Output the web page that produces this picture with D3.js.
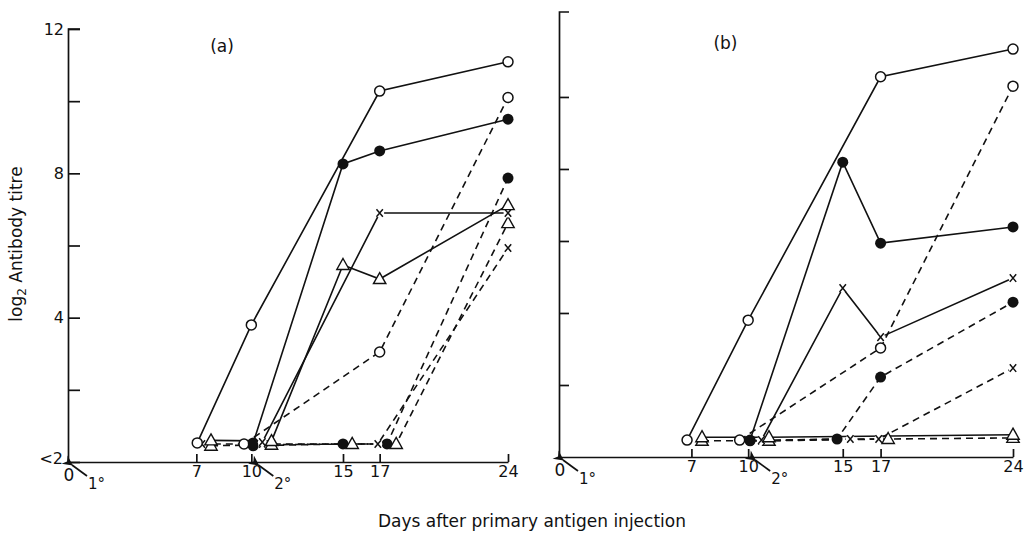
<!DOCTYPE html>
<html>
<head>
<meta charset="utf-8">
<script src="https://cdn.jsdelivr.net/npm/d3@7"></script>
<style>
body { margin: 0; background: #fff; }
text { font-family: "DejaVu Sans", "Noto Sans", sans-serif; fill: #111; }
</style>
</head>
<body>
<svg id="chart" width="1027" height="540"></svg>
<script>
const tickDays = [7, 10, 15, 17, 24];
const yTickValues = [0, 2, 4, 6, 8, 10, 12];
const yTickLabels = {0: '<2', 4: '4', 8: '8', 12: '12'};

// [day, log2 titre] -- points at the baseline are spread a little so they don't overlap
const aOpenSolid   = [[7.05, 0.53], [10, 3.8], [17, 10.28], [24, 11.09]];
const aFilledSolid = [[10.1, 0.53], [15, 8.26], [17, 8.62], [24, 9.5]];
const aCrossSolid  = [[10.6, 0.55], [17, 6.9], [24, 6.9]];
const aTriSolid    = [[7.8, 0.6], [11.1, 0.58], [15, 5.46], [17, 5.07], [24, 7.12]];
const aOpenDashed  = [[9.6, 0.5], [17, 3.05], [24, 10.1]];
const aFilledDashed= [[10.1, 0.45], [15, 0.5], [17.4, 0.5], [24, 7.87]];
const aTriDashed   = [[7.8, 0.45], [11.1, 0.48], [15.5, 0.5], [17.9, 0.5], [24, 6.62]];
const aCrossDashed = [[7.3, 0.5], [10.6, 0.5], [16.9, 0.5], [24, 5.93]];

const bOpenSolid   = [[6.77, 0.47], [10, 3.8], [17, 10.56], [24, 11.33]];
const bFilledSolid = [[10.1, 0.47], [15, 8.19], [17, 5.94], [24, 6.39]];
const bCrossSolid  = [[10.7, 0.47], [15, 4.69], [17, 3.33], [24, 4.97]];
const bTriSolid    = [[7.56, 0.55], [11.1, 0.55], [24, 0.62]];
const bOpenDashed  = [[9.55, 0.47], [17, 3.03], [24, 10.3]];
const bFilledDashed= [[10.1, 0.45], [14.7, 0.5], [17, 2.22], [24, 4.3]];
const bCrossDashed = [[10.7, 0.45], [15.4, 0.5], [16.9, 0.5], [24, 2.47]];
const bTriDashed   = [[7.56, 0.45], [11.1, 0.45], [17.4, 0.5], [24, 0.53]];

const seriesA = [
    {pts: aOpenDashed, mark: 'open', dash: true},
    {pts: aFilledDashed, mark: 'filled', dash: true},
    {pts: aTriDashed, mark: 'tri', dash: true},
    {pts: aCrossDashed, mark: 'cross', dash: true},
    {pts: aOpenSolid, mark: 'open', dash: false},
    {pts: aFilledSolid, mark: 'filled', dash: false},
    {pts: aCrossSolid, mark: 'cross', dash: false},
    {pts: aTriSolid, mark: 'tri', dash: false}
];
const seriesB = [
    {pts: bOpenDashed, mark: 'open', dash: true},
    {pts: bFilledDashed, mark: 'filled', dash: true},
    {pts: bCrossDashed, mark: 'cross', dash: true},
    {pts: bTriDashed, mark: 'tri', dash: true},
    {pts: bOpenSolid, mark: 'open', dash: false},
    {pts: bFilledSolid, mark: 'filled', dash: false},
    {pts: bCrossSolid, mark: 'cross', dash: false},
    {pts: bTriSolid, mark: 'tri', dash: false}
];

const svg = d3.select('#chart');
const ink = '#111';

svg.append('defs').append('marker')
    .attr('id', 'head')
    .attr('viewBox', '0 0 10 10')
    .attr('refX', 1).attr('refY', 5)
    .attr('markerWidth', 7).attr('markerHeight', 6)
    .attr('orient', 'auto-start-reverse')
    .append('path').attr('d', 'M0,5L10,0L7,5L10,10Z').attr('fill', ink);

function drawPanel(series, opt){
    let x = d3.scaleLinear().domain([0, 24]).range(opt.xRange);
    let y = d3.scaleLinear().domain([0, opt.yMax]).range(opt.yRange);
    let g = svg.append('g');

    let xAxis = d3.axisBottom(x).tickValues(tickDays).tickSize(-8).tickSizeOuter(0).tickPadding(4);
    let yAxis = d3.axisLeft(y).tickValues(opt.yTicks).tickSize(-opt.tickLen).tickSizeOuter(-opt.tickLen)
        .tickPadding(4).tickFormat(d => opt.labels ? (yTickLabels[d] || '') : '');

    let gx = g.append('g').attr('transform', `translate(0,${y(0)})`).call(xAxis);
    let gy = g.append('g').attr('transform', `translate(${x(0)},0)`).call(yAxis);
    [gx, gy].forEach(a => {
        a.selectAll('path, line').attr('stroke', ink).attr('stroke-width', 1.7);
        a.selectAll('text').attr('fill', ink).style('font-size', '16px');
    });
    gy.select('path.domain').attr('d', `M${opt.tickLen},${y.range()[1]}H0.5V${y(0)}`);
    gy.selectAll('text').filter(d => d === 0).attr('dy', '0.1em').attr('x', -5);

    let line = d3.line().x(d => x(d[0])).y(d => y(d[1]));
    series.forEach(s => {
        g.append('path').datum(s.pts)
            .attr('d', line)
            .attr('fill', 'none')
            .attr('stroke', ink)
            .attr('stroke-width', 1.6)
            .attr('stroke-dasharray', s.dash ? '7,5' : null);
    });

    series.forEach(s => {
        let m = g.append('g').selectAll('g').data(s.pts).join('g')
            .attr('transform', d => `translate(${x(d[0])},${y(d[1])})`);
        if(s.mark === 'open'){
            m.append('circle').attr('r', 5).attr('fill', '#fff').attr('stroke', ink).attr('stroke-width', 1.5);
        } else if(s.mark === 'filled'){
            m.append('circle').attr('r', 5.5).attr('fill', ink);
        } else if(s.mark === 'tri'){
            m.append('path').attr('d', 'M0,-6.5L6.2,4.5L-6.2,4.5Z').attr('fill', '#fff').attr('stroke', ink).attr('stroke-width', 1.4);
        } else {
            m.append('circle').attr('r', 4.5).attr('fill', '#fff');
            m.append('path').attr('d', 'M-3.2,-3.8L3.2,3.8M3.2,-3.8L-3.2,3.8').attr('stroke', ink).attr('stroke-width', 1.5);
        }
    });

    // panel letter
    g.append('text').attr('x', x(opt.letterDay)).attr('y', y(opt.letterY))
        .attr('text-anchor', 'middle').style('font-size', '17px').text(opt.letter);

    // origin "0" and the injection arrows
    g.append('text').attr('x', x(0) + 1).attr('y', y(0) + 19)
        .attr('text-anchor', 'middle').style('font-size', '17px').text('0');

    [[0, '1°'], [10, '2°']].forEach(([day, lab]) => {
        let hx = x(day) + (day ? 4 : 1), hy = y(0) + 1;
        g.append('line')
            .attr('x1', hx + 18).attr('y1', hy + 13)
            .attr('x2', hx + 3).attr('y2', hy + 2)
            .attr('stroke', ink).attr('stroke-width', 1.7)
            .attr('marker-end', 'url(#head)');
        g.append('text').attr('x', hx + 19).attr('y', hy + 26)
            .style('font-size', '15px').text(lab);
    });
}

drawPanel(seriesA, {
    xRange: [68, 508], yRange: [462, 29], yMax: 12,
    yTicks: yTickValues, tickLen: 12, labels: true,
    letter: '(a)', letterDay: 8.4, letterY: 11.35
});
drawPanel(seriesB, {
    xRange: [559, 1013], yRange: [457, 12], yMax: 12.36,
    yTicks: [2, 4, 6, 8, 10], tickLen: 10, labels: false,
    letter: '(b)', letterDay: 8.8, letterY: 11.32
});

svg.append('text')
    .attr('transform', 'translate(22,244) rotate(-90)')
    .attr('text-anchor', 'middle')
    .style('font-size', '17px')
    .call(t => {
        t.append('tspan').text('log');
        t.append('tspan').attr('dy', 4).style('font-size', '12px').text('2');
        t.append('tspan').attr('dy', -4).text(' Antibody titre');
    });

svg.append('text')
    .attr('x', 532).attr('y', 527)
    .attr('text-anchor', 'middle')
    .style('font-size', '17px')
    .text('Days after primary antigen injection');
</script>
</body>
</html>
